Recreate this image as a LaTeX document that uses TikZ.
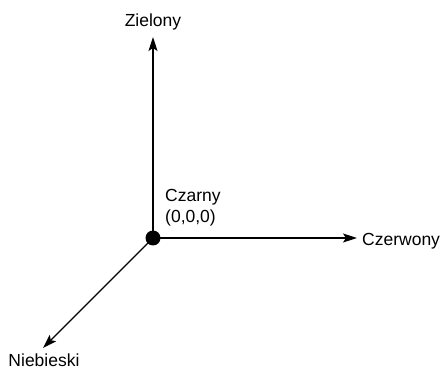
\documentclass[tikz,border=0pt]{standalone}
\usepackage{fontspec}
\setmainfont{Liberation Sans}
\usetikzlibrary{arrows.meta}
\begin{document}
\begin{tikzpicture}[x=1pt,y=-1pt,
  axis/.style={line width=1.3pt,-{Stealth[length=14pt,width=9pt,inset=3pt]}},
  lbl/.style={inner sep=0pt,font=\fontsize{17.5}{21}\selectfont},
  origin/.style={circle,fill=black,inner sep=0pt,minimum size=15pt}]
\useasboundingbox (0,0) rectangle (442,371);
\node[origin] (o) at (153,238) {};
\coordinate (g) at (153,37);
\coordinate (r) at (357,238);
\coordinate (b) at (43,348);
\draw[axis] (o.center) -- (g);
\draw[axis] (o.center) -- (r);
\draw[axis] (o.center) -- (b);
\node[lbl,anchor=base] (zl) at (153,27) {Zielony};
\node[lbl,anchor=base west] (cl) at (362,246) {Czerwony};
\node[lbl,anchor=base] (nl) at (44,366.5) {Niebieski};
\node[lbl,anchor=base west] (k1) at (165,202) {Czarny};
\node[lbl,anchor=base west] (k2) at (165,223) {(0,0,0)};
\end{tikzpicture}
\end{document}
